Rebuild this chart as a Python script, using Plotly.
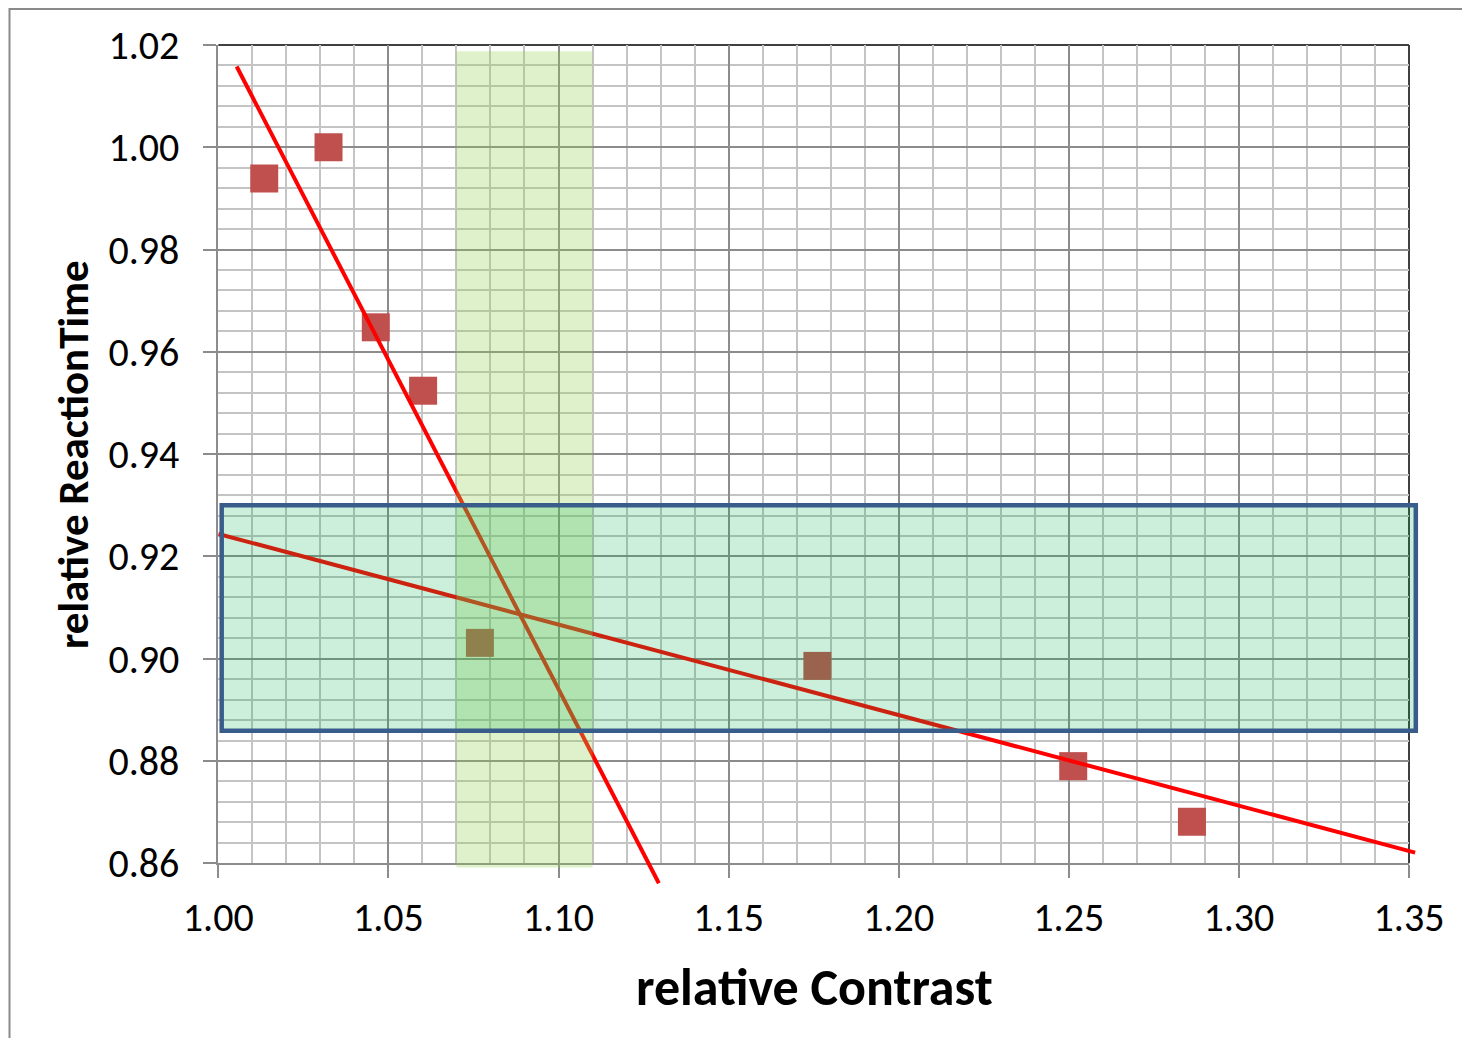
import plotly.graph_objects as go

# ---------------- data ----------------
contrast = [1.0135, 1.0324, 1.0463, 1.0602, 1.0769, 1.1761, 1.2513, 1.2862]
reaction = [0.9939, 1.0000, 0.9648, 0.9524, 0.9031, 0.8986, 0.8790, 0.8681]

trend1_x = [1.0054, 1.1295]
trend1_y = [1.0158, 0.8561]
trend2_x = [1.0000, 1.3518]
trend2_y = [0.9244, 0.8621]

band_x = [1.070, 1.110]      # light green vertical band
band_y = [0.8592, 1.0188]
box_x = [1.001, 1.352]       # blue framed horizontal box
box_y = [0.8859, 0.9300]

x_range = [1.00, 1.35]
y_range = [0.86, 1.02]
x_tick_step, x_minor_step = 0.05, 0.01
y_tick_step, y_minor_step = 0.02, 0.004

x_title = "relative Contrast"
y_title = "relative ReactionTime"

# ---------------- layout geometry ----------------
# page has an 8px body margin; figure sized so the page fits the window exactly
OFF = 8
W, H = 1470 - 2 * OFF, 1046 - 2 * OFF
ML, MR, MT, MB = 140, 10, 20, 120
# screen-pixel positions measured on the reference
PX0, PX1, PY0, PY1 = 218.3, 1409.0, 45.0, 863.3   # plot-area edges
EXT_R, EXT_B = 1440.0, 905.0                       # overlays may spill past plot

def dom_x(sx):
    return (sx - OFF - ML) / (W - ML - MR)

def dom_y(sy):
    return (H - MB - (sy - OFF)) / (H - MT - MB)

xspan = x_range[1] - x_range[0]
yspan = y_range[1] - y_range[0]
x2_range = [x_range[0], x_range[1] + (EXT_R - PX1) * xspan / (PX1 - PX0)]
y2_range = [y_range[0] - (EXT_B - PY1) * yspan / (PY1 - PY0), y_range[1]]

FONT = "Carlito, Lato, sans-serif"
RED_MARK = "#C0504D"
AX_GRAY = "#8c8c8c"
MINOR_GRAY = "#c4c4c4"

fig = go.Figure()

fig.add_trace(go.Scatter(
    x=contrast, y=reaction, mode="markers",
    marker=dict(symbol="square", size=28, color=RED_MARK, line=dict(width=0)),
    xaxis="x", yaxis="y", showlegend=False, hoverinfo="x+y",
))

for tx, ty in ((trend1_x, trend1_y), (trend2_x, trend2_y)):
    fig.add_trace(go.Scatter(
        x=tx, y=ty, mode="lines",
        line=dict(color="#FF0000", width=4),
        xaxis="x2", yaxis="y2", showlegend=False, hoverinfo="skip",
    ))

shapes = [
    # outer chart border
    dict(type="rect", xref="paper", yref="paper",
         x0=dom_x(9.5), x1=dom_x(1500), y0=dom_y(1080), y1=dom_y(OFF + 1),
         line=dict(color="#8a8a8a", width=2), fillcolor="rgba(0,0,0,0)", layer="below"),
    # plot-area top and right border
    dict(type="line", xref="paper", yref="paper",
         x0=dom_x(PX0), x1=dom_x(PX1), y0=dom_y(PY0), y1=dom_y(PY0),
         line=dict(color="#404040", width=2), layer="between"),
    dict(type="line", xref="paper", yref="paper",
         x0=dom_x(PX1), x1=dom_x(PX1), y0=dom_y(PY0), y1=dom_y(PY1),
         line=dict(color="#404040", width=2), layer="between"),
    # green vertical band
    dict(type="rect", xref="x2", yref="y2",
         x0=band_x[0], x1=band_x[1], y0=band_y[0], y1=band_y[1],
         fillcolor="rgba(146,208,80,0.3)", line=dict(width=0), layer="above"),
    # blue framed box
    dict(type="rect", xref="x2", yref="y2",
         x0=box_x[0], x1=box_x[1], y0=box_y[0], y1=box_y[1],
         fillcolor="rgba(0,176,80,0.2)", line=dict(color="#385D8A", width=4.5), layer="above"),
]

annotations = [
    dict(text="<b>%s</b>" % x_title, xref="paper", yref="paper",
         x=dom_x(814), y=dom_y(987), xanchor="center", yanchor="middle",
         showarrow=False, font=dict(family=FONT, size=52, color="black")),
    dict(text="<b>%s</b>" % y_title, xref="paper", yref="paper",
         x=dom_x(73), y=dom_y(455), xanchor="center", yanchor="middle",
         textangle=-90, showarrow=False, font=dict(family=FONT, size=43, color="black")),
]

fig.update_layout(
    template="none",
    width=W, height=H, autosize=False,
    margin=dict(l=ML, r=MR, t=MT, b=MB, pad=0, autoexpand=False),
    paper_bgcolor="white", plot_bgcolor="rgba(0,0,0,0)",
    showlegend=False,
    shapes=shapes, annotations=annotations,
    xaxis=dict(
        domain=[dom_x(PX0), dom_x(PX1)], range=x_range, anchor="y",
        automargin=False,
        tick0=x_range[0], dtick=x_tick_step, tickformat=".2f",
        showgrid=True, gridcolor=AX_GRAY, gridwidth=2,
        minor=dict(dtick=x_minor_step, showgrid=True, gridcolor=MINOR_GRAY, gridwidth=2),
        showline=True, linecolor=AX_GRAY, linewidth=2,
        ticks="outside", ticklen=13, tickwidth=2, tickcolor=AX_GRAY,
        ticklabelstandoff=5,
        tickfont=dict(family=FONT, size=40, color="black"),
        zeroline=False, fixedrange=True,
    ),
    yaxis=dict(
        domain=[dom_y(PY1), dom_y(PY0)], range=y_range, anchor="x",
        automargin=False,
        tick0=y_range[0], dtick=y_tick_step, tickformat=".2f",
        showgrid=True, gridcolor=AX_GRAY, gridwidth=2,
        minor=dict(dtick=y_minor_step, showgrid=True, gridcolor=MINOR_GRAY, gridwidth=2),
        showline=True, linecolor=AX_GRAY, linewidth=2,
        ticks="outside", ticklen=13, tickwidth=2, tickcolor=AX_GRAY,
        ticklabelstandoff=16,
        tickfont=dict(family=FONT, size=40, color="black"),
        zeroline=False, fixedrange=True,
    ),
    xaxis2=dict(domain=[dom_x(PX0), dom_x(EXT_R)], range=x2_range, anchor="y2",
                visible=False, automargin=False, fixedrange=True),
    yaxis2=dict(domain=[dom_y(EXT_B), dom_y(PY0)], range=y2_range, anchor="x2",
                visible=False, automargin=False, fixedrange=True),
)

fig.write_html("out.html")
